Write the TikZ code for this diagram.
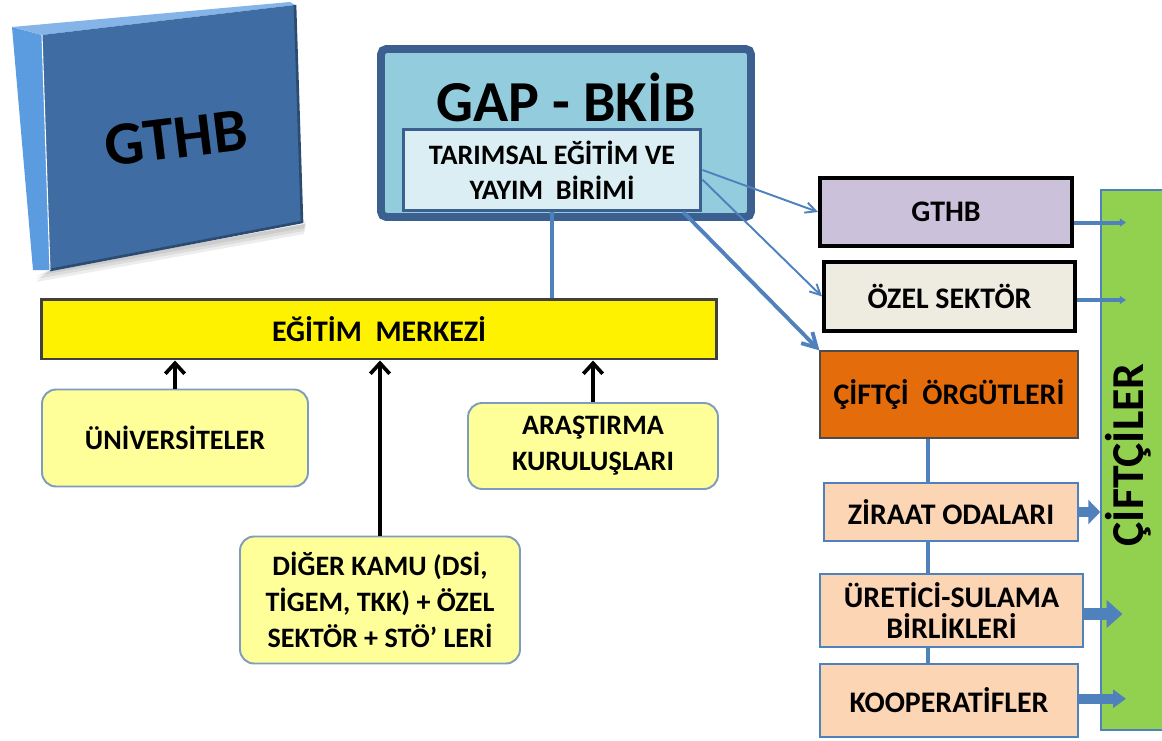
\documentclass[tikz,border=0pt]{standalone}
\usepackage{fontspec}
\setmainfont{Carlito}
\usetikzlibrary{arrows.meta,positioning}

\definecolor{gapfill}{HTML}{93CDDD}
\definecolor{gapline}{HTML}{3B5F8F}
\definecolor{birimfill}{HTML}{DBEEF4}
\definecolor{linkblue}{HTML}{4F81BD}
\definecolor{kurumfill}{HTML}{FFFF99}
\definecolor{kurumline}{HTML}{7F9BBE}
\definecolor{gthbfill}{HTML}{CCC1DA}
\definecolor{ozelfill}{HTML}{EEECE1}
\definecolor{orgutfill}{HTML}{E46C0A}
\definecolor{birlikfill}{HTML}{FCD5B5}
\definecolor{ciftcifill}{HTML}{92D050}
\definecolor{cubefront}{HTML}{3F6CA2}
\definecolor{cubeside}{HTML}{5B9BE0}

\begin{document}
\begin{tikzpicture}[x=0.02cm, y=-0.02cm,
    box/.style={rectangle, draw, align=center, inner sep=0pt},
    kurum/.style={box, draw=kurumline, line width=1.1pt, fill=kurumfill, rounded corners=8pt,
                  font=\fontsize{16}{20.5}\selectfont\bfseries},
    sektor/.style={box, line width=2.3pt, font=\fontsize{17}{20}\selectfont\bfseries},
    birlik/.style={box, draw=linkblue, line width=1.1pt, fill=birlikfill,
                   font=\fontsize{17}{17.5}\selectfont\bfseries},
    rise/.style={-{Straight Barb[length=6pt,width=11pt]}, line width=2.1pt, black},
    link/.style={linkblue, line width=2.2pt},
    thinarrow/.style={-{Straight Barb[length=6pt,width=6pt]}, line width=1.1pt, linkblue},
    thickarrow/.style={-{Straight Barb[length=8pt,width=9pt]}, line width=2.2pt, linkblue},
    feed/.style={-{Triangle[length=3.5pt,width=4.5pt]}, line width=2.3pt, linkblue},
    fat/.style={linkblue, line width=#1}
]
    \useasboundingbox (0,0) rectangle (1162,740);
    \clip (0,0) rectangle (1162,740);

    % GTHB block (3D)
    \foreach \d in {10,7,4}
        \fill[black, opacity=0.07] (36,272+\d) -- (304,224+\d) -- (306,214+\d) -- (304,224) -- (50,270) -- cycle;
    \fill[cubeside] (12,27) -- (42,35) -- (50,270) -- (33,270) -- cycle;
    \fill[cubeside!75!white] (12,27) -- (290,2) -- (295,5) -- (42,35) -- cycle;
    \fill[cubefront] (42,35) -- (295,5) -- (302,222) -- (50,270) -- cycle;
    \draw[cubefront!70!black, line width=1.5pt] (295,5) -- (302,222) -- (50,270);
    \draw[white, line width=0.6pt] (42,35) -- (50,270);
    \node[rotate=7, font=\fontsize{35}{35}\selectfont\bfseries] (gthbcube) at (176,138) {GTHB};

    % GAP - BKIB
    \node[box, draw=gapline, fill=gapfill, line width=4.5pt, rounded corners=3pt,
          minimum width=7.4cm, minimum height=3.36cm] (gap) at (566,133) {};
    \node[font=\fontsize{33}{33}\selectfont\bfseries] (gaptitle) at (566,97) {GAP - BKİB};
    \node[box, draw=gapline, fill=birimfill, line width=1.7pt, minimum width=5.96cm, minimum height=1.62cm,
          font=\fontsize{16}{20}\selectfont\bfseries] (birim) at (552,170) {TARIMSAL EĞİTİM VE\\YAYIM~~BİRİMİ};

    % egitim merkezi and sources
    \node[box, draw=black!75, fill=yellow, line width=1.7pt, minimum width=13.5cm, minimum height=1.2cm,
          font=\fontsize{17}{20}\selectfont\bfseries] (merkez) at (379,329) {EĞİTİM~~MERKEZİ};
    \node[kurum, minimum width=5.32cm, minimum height=1.94cm] (univ) at (175,438) {ÜNİVERSİTELER};
    \node[kurum, minimum width=5.0cm, minimum height=1.72cm] (arastirma) at (593,446) {ARAŞTIRMA\\KURULUŞLARI};
    \node[kurum, minimum width=5.6cm, minimum height=2.54cm] (diger) at (380,600)
        {DİĞER KAMU (DSİ,\\TİGEM, TKK) + ÖZEL\\SEKTÖR + STÖ’ LERİ};

    \draw[link] (birim.south) -- (birim.south |- merkez.north);
    \draw[rise] (univ.north) -- (univ.north |- merkez.south);
    \draw[rise] (diger.north) -- (diger.north |- merkez.south);
    \draw[rise] (arastirma.north) -- (arastirma.north |- merkez.south);

    % right column
    \node[sektor, fill=gthbfill, minimum width=5.04cm, minimum height=1.36cm] (gthb) at (946,212) {GTHB};
    \node[sektor, fill=ozelfill, minimum width=5.02cm, minimum height=1.38cm] (ozel) at (949.5,296.5) {ÖZEL SEKTÖR};
    \node[box, draw=black!70, fill=orgutfill, line width=0.7pt, minimum width=5.16cm, minimum height=1.74cm,
          font=\fontsize{17}{20}\selectfont\bfseries] (orgut) at (949,394.5) {ÇİFTÇİ~~ÖRGÜTLERİ};
    \node[birlik, minimum width=5.08cm, minimum height=1.16cm] (ziraat) at (951,512) {ZİRAAT ODALARI};
    \node[birlik, minimum width=5.26cm, minimum height=1.46cm] (uretici) at (951.5,610.5) {ÜRETİCİ-SULAMA\\BİRLİKLERİ};
    \node[birlik, minimum width=5.16cm, minimum height=1.46cm] (koop) at (949,700.5) {KOOPERATİFLER};

    \node[box, draw=linkblue, fill=ciftcifill, line width=0.9pt, minimum width=1.6cm, minimum height=10.8cm]
        (bar) at (1141,460) {};
    \node[rotate=90, font=\fontsize{26}{26}\selectfont\bfseries] (ciftciler) at (1128,455) {ÇİFTÇİLER};

    \coordinate (spine) at (928,0);
    \coordinate (inbar) at (1126,0);

    \draw[thinarrow] (birim.east) -- (gthb.west);
    \draw[thinarrow] ([yshift=-5.5pt]birim.east) -- (ozel.west);
    \draw[thickarrow] ([xshift=-11pt]birim.south east) -- (orgut.north west);

    \draw[link] (spine |- orgut.south) -- (spine |- ziraat.north);
    \draw[link] (spine |- ziraat.south) -- (spine |- uretici.north);
    \draw[link] (spine |- uretici.south) -- (spine |- koop.north);

    \draw[feed] ([yshift=-6pt]gthb.east) -- ([yshift=-6pt]gthb.east -| inbar);
    \draw[feed] ([yshift=-2pt]ozel.east) -- ([yshift=-2pt]ozel.east -| inbar);
    \draw[fat=6.2pt, -{Triangle[length=6.8pt,width=13.6pt]}] (ziraat.east) -- (ziraat.east -| bar.west);
    \draw[fat=6.8pt, -{Triangle[length=9pt,width=15.3pt]}] ([yshift=-2pt]uretici.east) -- ([yshift=-2pt,xshift=-2pt]uretici.east -| inbar);
    \draw[fat=5.7pt, -{Triangle[length=7.4pt,width=10.2pt]}] ([yshift=1pt]koop.east) -- ([yshift=1pt]koop.east -| inbar);
\end{tikzpicture}
\end{document}
